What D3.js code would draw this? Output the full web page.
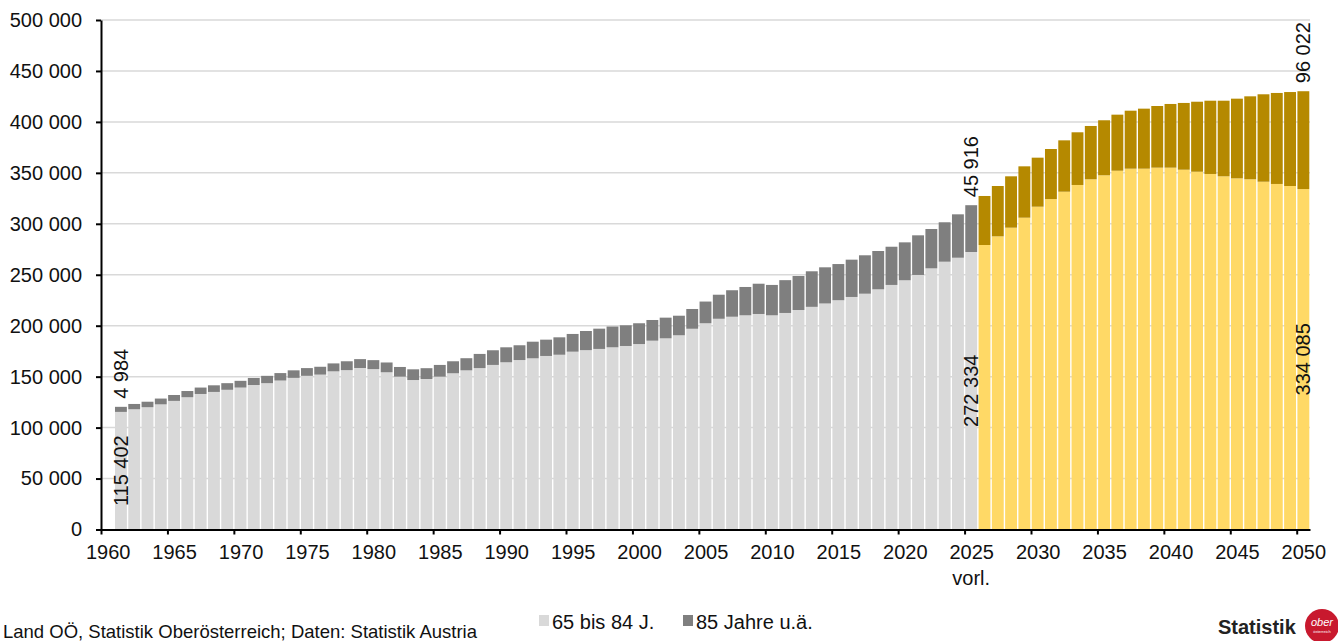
<!DOCTYPE html>
<html>
<head>
<meta charset="utf-8">
<script src="https://cdn.jsdelivr.net/npm/d3@7"></script>
<style>
  html, body { margin: 0; padding: 0; background: #fff; }
  svg { display: block; font-family: "Liberation Sans", Arial, sans-serif; }
</style>
</head>
<body>
<svg id="chart" width="1338" height="641"></svg>
<script>
// ---------- DATA ----------
const firstYear = 1961;
const lastYear = 2050;
const firstForecastYear = 2026;

// 65 bis 84 Jahre
const age65to84 = [
  115402, 118000, 120000, 122800, 126200, 129800, 133000, 135000, 137100, 139300,
  141800, 143600, 146200, 148800, 150800, 152000, 155200, 156400, 158500, 157400,
  154300, 150000, 146700, 147700, 150000, 153300, 156200, 158400, 161500, 164100,
  166300, 168000, 170300, 171500, 174500, 176000, 177200, 178800, 180100, 182000,
  185300, 187600, 190600, 197000, 202400, 206800, 208800, 210200, 211500, 210200,
  212500, 215400, 218500, 221800, 225000, 228200, 231400, 235700, 240000, 244600,
  249800, 256300, 262800, 266700, 272334, 279200, 287700, 296200, 306000, 316800,
  324300, 331500, 338100, 343700, 347600, 352100, 354100, 354100, 355100, 355100,
  353100, 351100, 348900, 346600, 344600, 343700, 341300, 339100, 337100, 334085
];
// 85 Jahre und älter
const age85plus = [
  4984, 5200, 5400, 5700, 5800, 6100, 6300, 6500, 6500, 6600,
  6900, 7200, 7300, 7400, 7600, 7700, 7800, 8700, 8700, 8800,
  9600, 9500, 10500, 10600, 11500, 11800, 11900, 13900, 14400, 14700,
  14500, 16300, 16000, 17100, 17400, 18800, 19900, 20400, 20300, 20400,
  20300, 20300, 19200, 19400, 21300, 23600, 26000, 27800, 29700, 29800,
  32200, 33400, 34900, 35500, 35500, 36600, 37700, 37600, 37500, 37200,
  38900, 38600, 38700, 42600, 45916, 48100, 49400, 50400, 50400, 48100,
  49100, 50400, 51700, 52300, 54000, 55000, 56900, 58900, 60500, 62500,
  65500, 68700, 71900, 74200, 78200, 81400, 85800, 89300, 92200, 96022
];
const labelYears = [1961, 2025, 2050];
const yTicks = [0, 50000, 100000, 150000, 200000, 250000, 300000, 350000, 400000, 450000, 500000];
const xTickYears = [1960, 1965, 1970, 1975, 1980, 1985, 1990, 1995, 2000, 2005, 2010, 2015, 2020, 2025, 2030, 2035, 2040, 2045, 2050];
const seriesNames = ["65 bis 84 J.", "85 Jahre u.ä."];
const sourceText = "Land OÖ, Statistik Oberösterreich; Daten: Statistik Austria";

(function () {
// ---------- SETUP ----------
const years = d3.range(firstYear, lastYear + 1);
const data = years.map((yr, i) => ({ year: yr, a: age65to84[i], b: age85plus[i] }));

const colors = {
  a: "#d9d9d9", b: "#7f7f7f",
  aF: "#ffd966", bF: "#b58900"
};

const svg = d3.select("#chart");
const mLeft = 101, mRight = 1310, mTop = 20, mBottom = 529.5;

const x = d3.scaleLinear().domain([1960, lastYear + 1]).range([mLeft, mRight]);
const step = x(1961) - x(1960);
const y = d3.scaleLinear().domain([0, 500000]).range([mBottom, mTop]);

const loc = d3.formatLocale({ decimal: ",", thousands: " ", grouping: [3], currency: ["", ""] });
const fmt = loc.format(",d");

// gridlines
svg.append("g").selectAll("line").data(yTicks.filter(d => d > 0)).join("line")
  .attr("x1", mLeft).attr("x2", mRight)
  .attr("y1", d => y(d)).attr("y2", d => y(d))
  .attr("stroke", "#d9d9d9").attr("stroke-width", 1.5);

// bars
const gap = 1.4;
const barG = svg.append("g");
barG.selectAll("rect.a").data(data).join("rect").attr("class", "a")
  .attr("x", d => x(d.year) + gap / 2)
  .attr("width", step - gap)
  .attr("y", d => y(d.a))
  .attr("height", d => y(0) - y(d.a))
  .attr("fill", d => d.year >= firstForecastYear ? colors.aF : colors.a);
barG.selectAll("rect.b").data(data).join("rect").attr("class", "b")
  .attr("x", d => x(d.year) + gap / 2)
  .attr("width", step - gap)
  .attr("y", d => y(d.a + d.b))
  .attr("height", d => y(d.a) - y(d.a + d.b))
  .attr("fill", d => d.year >= firstForecastYear ? colors.bF : colors.b);

// data labels
const labelData = data.filter(d => labelYears.includes(d.year));
const lg = svg.append("g").attr("font-size", 20).attr("fill", "#111");
labelData.forEach(d => {
  const cx = x(d.year) + step / 2;
  const cy = (y(0) + y(d.a)) / 2;
  lg.append("text")
    .attr("transform", `translate(${cx},${cy}) rotate(-90)`)
    .attr("text-anchor", "middle")
    .attr("dominant-baseline", "central")
    .text(fmt(d.a));
  const ty = y(d.a + d.b) - 8;
  lg.append("text")
    .attr("transform", `translate(${cx},${ty}) rotate(-90)`)
    .attr("text-anchor", "start")
    .attr("dominant-baseline", "central")
    .text(fmt(d.b));
});

// y axis
const yAxis = svg.append("g").attr("transform", `translate(${mLeft},0)`)
  .call(d3.axisLeft(y).tickValues(yTicks).tickSize(5).tickSizeOuter(0).tickPadding(14).tickFormat(fmt));
yAxis.selectAll("text").attr("font-size", 20).attr("fill", "#111").attr("font-family", "Liberation Sans, Arial, sans-serif");
yAxis.selectAll("line").attr("stroke", "#000").attr("stroke-width", 2);
yAxis.select(".domain").attr("stroke", "#000").attr("stroke-width", 2);

// x axis
const xAxis = svg.append("g").attr("transform", `translate(0,${mBottom})`)
  .call(d3.axisBottom(x).tickValues(xTickYears).tickSize(5).tickSizeOuter(0).tickPadding(10.5).tickFormat(d3.format("d")));
xAxis.selectAll("text").attr("font-size", 20).attr("fill", "#111").attr("x", step / 2)
  .attr("font-family", "Liberation Sans, Arial, sans-serif");
xAxis.selectAll("line").attr("stroke", "#000").attr("stroke-width", 2);
xAxis.select(".domain").attr("stroke", "#000").attr("stroke-width", 2);

svg.append("text")
  .attr("x", x(2025) + step / 2).attr("y", 585)
  .attr("text-anchor", "middle").attr("font-size", 20).attr("fill", "#111")
  .text("vorl.");

// legend
const legend = svg.append("g").attr("font-size", 20).attr("fill", "#111");
const legItems = [
  { name: seriesNames[0], color: colors.a, x: 539 },
  { name: seriesNames[1], color: colors.b, x: 683 }
];
legItems.forEach(it => {
  legend.append("rect").attr("x", it.x).attr("y", 615).attr("width", 10).attr("height", 11).attr("fill", it.color);
  legend.append("text").attr("x", it.x + 13).attr("y", 628.5).text(it.name);
});

// source
svg.append("text").attr("x", 3).attr("y", 638).attr("font-size", 18.5).attr("fill", "#111").text(sourceText);

// logo
svg.append("text").attr("x", 1218).attr("y", 634).attr("font-size", 20).attr("font-weight", "bold")
  .attr("fill", "#222").text("Statistik");
svg.append("circle").attr("cx", 1322).attr("cy", 626).attr("r", 17).attr("fill", "#c8192e");
svg.append("text").attr("x", 1322).attr("y", 626).attr("text-anchor", "middle")
  .attr("font-size", 11).attr("font-style", "italic").attr("fill", "#fff").text("ober");
svg.append("text").attr("x", 1322).attr("y", 633).attr("text-anchor", "middle")
  .attr("font-size", 4).attr("fill", "#fff").text("österreich");
})();
</script>
</body>
</html>
